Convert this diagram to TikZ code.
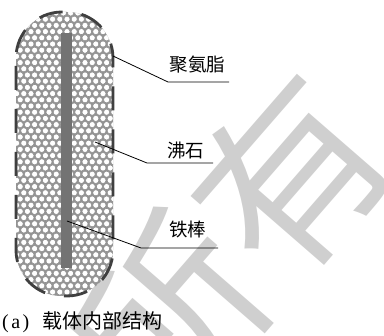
\documentclass[tikz,border=0pt]{standalone}
\usepackage{fontspec}
\setmainfont{Liberation Serif}
\newfontfamily\cjk{Noto Sans CJK SC}

\begin{document}
\begin{tikzpicture}[x=1pt,y=-1pt,
  lbl/.style={font=\cjk\fontsize{18.5}{20}\selectfont, inner sep=0pt},
  captext/.style={font=\fontsize{20}{22}\selectfont, inner sep=0pt, anchor=west},
  leader/.style={draw=black, line width=0.8pt},
  shell/.style={draw=black!75, line width=2.8pt, dash pattern=on 24pt off 19pt},
  bead/.style={fill=white, draw=black!45, line width=0.5pt},
  rodstyle/.style={fill=black!55},
  watermark/.style={text=black!19, font=\cjk\fontsize{185}{185}\selectfont, inner sep=0pt}
]
\useasboundingbox (0,0) rectangle (384,336);

% faint background stamp
\node[watermark, rotate=49] (wm) at (230,246) {所有};

% carrier body outline, starting and ending partway down the left side
\def\carrier{[rounded corners=46pt] (16,66) -- (16,296) -- (113,296) -- (113,12) -- (16,12) -- (16,66)}

% zeolite packing: grey ground with hexagonally packed white beads
\fill[black!42] \carrier;
\begin{scope}
  \clip \carrier;
  \foreach \j in {0,...,48} {
    \pgfmathsetmacro\yy{13+\j*6.2}
    \pgfmathsetmacro\xo{mod(\j,2)*3.6}
    \foreach \i in {0,...,15} {
      \path[bead] (13+\i*7.2+\xo,\yy) circle (3.05);
    }
  }
\end{scope}

% iron rod in the middle
\fill[rodstyle] (61,33) rectangle (72,268);

% polyurethane shell (dashed)
\draw[shell] \carrier;

% labels
\node[lbl] (pu)  at (197.5,65) {聚氨脂};
\node[lbl] (zeo) at (186,150)  {沸石};
\node[lbl] (fe)  at (187.5,229) {铁棒};

% leader lines
\coordinate (pu-a)  at (113,56);
\coordinate (pu-b)  at (168,82);
\coordinate (pu-c)  at (229,82);
\coordinate (zeo-a) at (95,142);
\coordinate (zeo-b) at (147,163);
\coordinate (zeo-c) at (213,163);
\coordinate (fe-a)  at (67,221);
\coordinate (fe-b)  at (141,248);
\coordinate (fe-c)  at (218,248);
\draw[leader] (pu-a) -- (pu-b) -- (pu-c);
\draw[leader] (zeo-a) -- (zeo-b) -- (zeo-c);
\draw[leader] (fe-a) -- (fe-b) -- (fe-c);

% caption
\node[captext] (caption) at (2,322) {(\kern2.5pt a\kern2.5pt)\hspace{13pt}{\cjk 载体内部结构}};
\end{tikzpicture}
\end{document}
